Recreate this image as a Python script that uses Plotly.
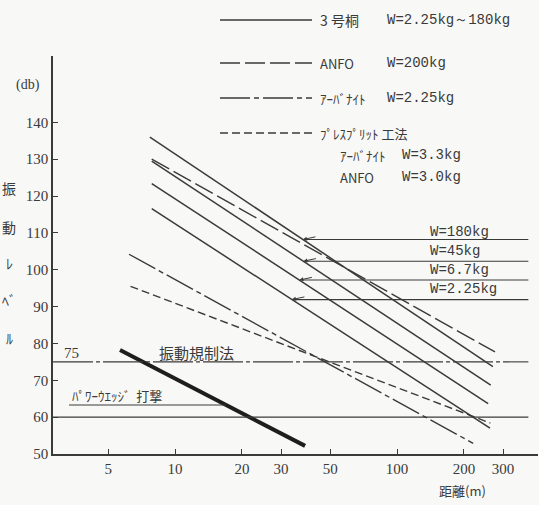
import numpy as np
import plotly.graph_objects as go

# ---- data ----
dyn_labels = ["W=180kg", "W=45kg", "W=6.7kg", "W=2.25kg"]
dyn_d_start = [7.7, 7.85, 7.85, 7.85]
dyn_db_start = [136.0, 129.5, 123.4, 116.6]
dyn_d_end = [270, 264, 257, 262]
dyn_db_end = [73.7, 68.7, 63.7, 57.0]
dyn_label_db = [108.2, 102.3, 97.2, 91.9]

anfo_d = [7.85, 276]
anfo_db = [130.0, 77.7]
urb_d = [6.2, 220]
urb_db = [104.2, 52.9]
pres_d = [6.3, 263]
pres_db = [95.5, 58.4]
pw_d = [5.65, 38.5]
pw_db = [78.2, 52.2]

reg_db = [75, 60]
line_end_d = 390
axis_start_d = 2.82

xticks = [5, 10, 20, 30, 50, 100, 200, 300]
yticks = [50, 60, 70, 80, 90, 100, 110, 120, 130, 140]

W, H = 539, 505
ML, MR, MT, MB = 53, 1, 56, 51
PW, PH = W - ML - MR, H - MT - MB

INK = "#3a3a3a"
JP = "Noto Sans CJK JP"
MONO = "Liberation Mono"
SERIF = "Liberation Serif"


def px(x):
    return (x - ML) / PW


def py(y):
    return (H - MB - y) / PH


def interp_d(d, db, target):
    u0, u1 = np.log10(d[0]), np.log10(d[1])
    t = (target - db[0]) / (db[1] - db[0])
    return 10 ** (u0 + t * (u1 - u0))


fig = go.Figure()

for i in range(4):
    fig.add_trace(go.Scatter(x=[dyn_d_start[i], dyn_d_end[i]], y=[dyn_db_start[i], dyn_db_end[i]],
                             mode="lines", line=dict(color=INK, width=1.5), showlegend=False))

fig.add_trace(go.Scatter(x=anfo_d, y=anfo_db, mode="lines",
                         line=dict(color=INK, width=1.4, dash="20px,5px"), showlegend=False))
fig.add_trace(go.Scatter(x=urb_d, y=urb_db, mode="lines",
                         line=dict(color=INK, width=1.4, dash="30px,4px,5px,4px"), showlegend=False))
fig.add_trace(go.Scatter(x=pres_d, y=pres_db, mode="lines",
                         line=dict(color=INK, width=1.4, dash="8px,4px"), showlegend=False))
fig.add_trace(go.Scatter(x=pw_d, y=pw_db, mode="lines",
                         line=dict(color="#1e1e1e", width=4), showlegend=False))

# regulation lines
fig.add_trace(go.Scatter(x=[axis_start_d, line_end_d], y=[reg_db[0]] * 2, mode="lines",
                         line=dict(color=INK, width=1.1, dash="40px,3px,4px,3px"), showlegend=False))
fig.add_trace(go.Scatter(x=[axis_start_d, line_end_d], y=[reg_db[1]] * 2, mode="lines",
                         line=dict(color=INK, width=1.1), showlegend=False))

# W label lines with arrows
for i in range(4):
    dstart = interp_d([dyn_d_start[i], dyn_d_end[i]], [dyn_db_start[i], dyn_db_end[i]], dyn_label_db[i])
    fig.add_trace(go.Scatter(x=[dstart * 1.03, line_end_d], y=[dyn_label_db[i]] * 2, mode="lines",
                             line=dict(color=INK, width=1.1), showlegend=False))
    fig.add_annotation(x=np.log10(dstart), y=dyn_label_db[i], ax=14, ay=-3, showarrow=True,
                       arrowhead=2, arrowsize=0.8, arrowwidth=1, arrowcolor=INK, text="")
    fig.add_annotation(x=px(428), y=py([232, 251, 270, 289][i]), xref="paper", yref="paper",
                       text=dyn_labels[i], showarrow=False, xanchor="left", yanchor="middle",
                       font=dict(family=MONO, size=14, color=INK))

# power wedge label underline
pw_lab_db = 63.3
pw_cross = interp_d(pw_d, pw_db, pw_lab_db)
fig.add_trace(go.Scatter(x=[3.33, pw_cross], y=[pw_lab_db] * 2, mode="lines",
                         line=dict(color=INK, width=1.1), showlegend=False))


def ann(x, y, text, size=14, family=JP, anchor="left"):
    fig.add_annotation(x=px(x), y=py(y), xref="paper", yref="paper", text=text, showarrow=False,
                       xanchor=anchor, yanchor="middle", font=dict(family=family, size=size, color=INK))


ann(70, 395, "ﾊﾟﾜｰｳｴｯｼﾞ  打撃", 13)
ann(62, 353, "75", 15, SERIF)
ann(157, 352, "振動規制法", 15)
ann(14, 85, "(db)", 14, SERIF)
for ch, yy in zip(["振", "動", "ﾚ", "ﾍﾞ", "ﾙ"], [188, 227, 263, 300, 338]):
    ann(9, yy, ch, 14, JP, "center")
ann(437, 491, "距離(m)", 13)

# legend
leg_y = [20, 63, 98, 133]
leg_dash = ["solid", "20px,5px", "30px,4px,5px,4px", "8px,4px"]
for yy, ds in zip(leg_y, leg_dash):
    fig.add_shape(type="line", xref="paper", yref="paper", x0=px(220), x1=px(312), y0=py(yy), y1=py(yy),
                  line=dict(color=INK, width=1.4, dash=ds))
ann(318, 20, "3 号桐", 14)
ann(385, 20, "W=2.25kg～180kg", 14, MONO)
ann(318, 63, "ANFO", 13, JP)
ann(385, 63, "W=200kg", 14, MONO)
ann(318, 98, "ｱｰﾊﾞﾅｲﾄ", 13)
ann(385, 98, "W=2.25kg", 14, MONO)
ann(318, 133, "ﾌﾟﾚｽﾌﾟﾘｯﾄ 工法", 13)
ann(338, 155, "ｱｰﾊﾞﾅｲﾄ", 13)
ann(400, 155, "W=3.3kg", 14, MONO)
ann(338, 177, "ANFO", 13, JP)
ann(400, 177, "W=3.0kg", 14, MONO)

fig.update_xaxes(type="log", range=[np.log10(axis_start_d), np.log10(431)], tickvals=xticks,
                 ticktext=[str(t) for t in xticks], ticks="inside", ticklen=5, tickcolor=INK,
                 showline=True, linecolor=INK, linewidth=1.6, showgrid=False, zeroline=False,
                 tickfont=dict(family=SERIF, size=15, color=INK))
fig.update_yaxes(range=[50, 158], tickvals=yticks, ticks="inside", ticklen=5, tickcolor=INK,
                 showline=True, linecolor=INK, linewidth=1.6, showgrid=False, zeroline=False,
                 tickfont=dict(family=SERIF, size=15, color=INK))
fig.update_layout(width=W, height=H, margin=dict(l=ML, r=MR, t=MT, b=MB),
                  paper_bgcolor="#f8f8f6", plot_bgcolor="#f8f8f6", showlegend=False)

fig.write_html("out.html", config={"displayModeBar": False},
               post_script="document.body.style.margin='0';")
